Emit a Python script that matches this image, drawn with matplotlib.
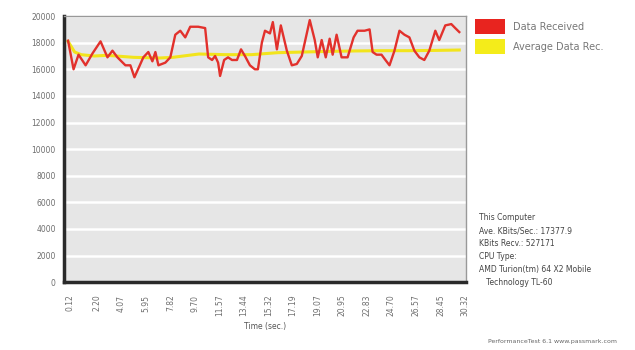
import matplotlib
matplotlib.use('Agg')
import matplotlib.pyplot as plt
from matplotlib.patches import Patch

# Data received (KBits/sec)
time_s = [0.00, 0.42, 0.80, 1.34, 1.87, 2.48, 3.01, 3.39, 3.77, 4.38, 4.76, 5.07,
          5.75, 6.13, 6.44, 6.67, 6.90, 7.43, 7.81, 8.19, 8.57, 8.95, 9.33, 9.94,
          10.47, 10.70, 11.00, 11.23, 11.46, 11.61, 11.92, 12.22, 12.52, 12.90,
          13.21, 13.51, 13.89, 14.27, 14.50, 14.80, 15.04, 15.42, 15.64, 15.95,
          16.25, 16.71, 17.09, 17.47, 17.85, 18.46, 18.84, 19.07, 19.37, 19.68,
          19.98, 20.21, 20.51, 20.89, 21.35, 21.81, 22.11, 22.65, 23.03, 23.26,
          23.56, 23.94, 24.24, 24.55, 24.93, 25.31, 25.69, 26.07, 26.45, 26.83,
          27.21, 27.59, 28.05, 28.35, 28.81, 29.27, 29.57, 29.88]
received = [18150, 16000, 17100, 16300, 17200, 18100, 16900, 17400, 16900, 16300, 16300, 15400,
            16900, 17300, 16600, 17300, 16300, 16500, 16900, 18600, 18900, 18400, 19200, 19200,
            19100, 16900, 16700, 17000, 16500, 15500, 16700, 16900, 16700, 16700,
            17500, 17000, 16300, 16000, 16000, 18000, 18900, 18700, 19550, 17500,
            19300, 17400, 16300, 16400, 17000, 19700, 18200, 16900, 18200, 16900,
            18300, 17100, 18600, 16900, 16900, 18400, 18900, 18900, 19000, 17300,
            17100, 17100, 16700, 16300, 17400, 18900, 18600, 18400, 17400, 16900,
            16700, 17400, 18900, 18200, 19300, 19400, 19100, 18800]

# Average data received
avg_time = [0.00, 0.5, 1.0, 2.0, 3.0, 5.0, 7.0, 8.0, 10.0, 12.0, 14.0, 16.0,
            18.0, 20.0, 22.0, 24.0, 26.0, 28.0, 29.88]
avg_recv = [18100, 17300, 17100, 17000, 17050, 16900, 16850, 16900, 17150, 17100, 17100, 17250,
            17300, 17350, 17380, 17400, 17400, 17420, 17450]

tick_pos = [0.12, 2.20, 4.07, 5.95, 7.82, 9.70, 11.57, 13.44, 15.32, 17.19,
            19.07, 20.95, 22.83, 24.70, 26.57, 28.45, 30.32]
tick_lab = ['%.2f' % t for t in tick_pos]

info = ('This Computer\nAve. KBits/Sec.: 17377.9\nKBits Recv.: 527171\nCPU Type:\n'
        'AMD Turion(tm) 64 X2 Mobile\n   Technology TL-60')

fig = plt.figure(figsize=(6.35, 3.5), dpi=100)
ax = fig.add_axes([0.101, 0.194, 0.633, 0.76])
ax.set_facecolor('#e6e6e6')

ax.plot(avg_time, avg_recv, color='#f2e41c', lw=2.2)
ax.plot(time_s, received, color='#e2312c', lw=1.7)

ax.set_ylim(0, 20000)
ax.set_yticks(range(0, 20001, 2000))
ax.set_xlim(-0.3, 30.4)
ax.set_xticks(tick_pos)
ax.set_xticklabels(tick_lab, rotation=90)
ax.grid(axis='y', color='white', lw=1.8)
ax.set_axisbelow(True)
ax.tick_params(length=0, labelsize=5.5, labelcolor='#6e6e6e')
ax.tick_params(axis='x', pad=9)
ax.tick_params(axis='y', pad=6)

for s in ['left', 'bottom']:
    ax.spines[s].set_linewidth(2.5)
    ax.spines[s].set_color('#2a2a2a')
for s in ['top', 'right']:
    ax.spines[s].set_linewidth(1.0)
    ax.spines[s].set_color('#999999')

ax.set_xlabel('Time (sec.)', fontsize=5.5, color='#555555', labelpad=4)

handles = [Patch(facecolor='#e8241f', edgecolor='none'),
           Patch(facecolor='#f4ec1a', edgecolor='none')]
fig.legend(handles, ['Data Received', 'Average Data Rec.'], loc='upper left',
           bbox_to_anchor=(0.735, 0.97), frameon=False, fontsize=7,
           handlelength=3.0, handleheight=1.9, labelcolor='#777777',
           handletextpad=0.9, labelspacing=0.6)

fig.text(0.755, 0.39, info, fontsize=5.5, color='#444444', va='top', linespacing=1.55)
fig.text(0.768, 0.02, 'PerformanceTest 6.1 www.passmark.com', fontsize=4.5, color='#666666')

fig.savefig('out.png', dpi=100)
